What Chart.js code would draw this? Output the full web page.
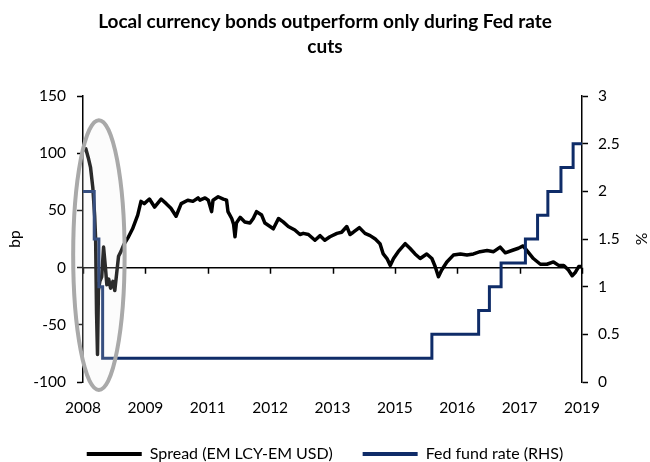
<!DOCTYPE html>
<html>
<head>
<meta charset="utf-8">
<script src="https://cdn.jsdelivr.net/npm/chart.js@4.4.1/dist/chart.umd.min.js"></script>
<style>
  html, body { margin: 0; padding: 0; background: #fff; }
  #wrap { width: 650px; height: 462px; }
</style>
</head>
<body>
<div id="wrap"><canvas id="chart"></canvas></div>
<script>
// dates as decimal years
const spreadDates = [2008.40, 2008.46, 2008.52, 2008.56, 2008.61, 2008.65, 2008.67, 2008.69, 2008.71, 2008.73,
  2008.76, 2008.80, 2008.84, 2008.88, 2008.91, 2008.95, 2008.99, 2009.04, 2009.08, 2009.12,
  2009.16, 2009.21, 2009.27, 2009.36, 2009.46, 2009.57, 2009.64, 2009.71, 2009.82, 2009.93,
  2010.07, 2010.18, 2010.28, 2010.39, 2010.50, 2010.64, 2010.75, 2010.86, 2010.90, 2011.01,
  2011.08, 2011.15, 2011.18, 2011.29, 2011.40, 2011.47, 2011.50, 2011.58, 2011.62, 2011.65,
  2011.68, 2011.76, 2011.86, 2011.97, 2012.04, 2012.11, 2012.22, 2012.29, 2012.40, 2012.47,
  2012.58, 2012.68, 2012.79, 2012.93, 2013.04, 2013.11, 2013.22, 2013.36, 2013.47, 2013.57,
  2013.68, 2013.83, 2013.93, 2014.04, 2014.11, 2014.18, 2014.31, 2014.43, 2014.54, 2014.65,
  2014.75, 2014.82, 2014.90, 2014.97, 2015.04, 2015.14, 2015.29, 2015.39, 2015.50, 2015.61,
  2015.75, 2015.86, 2015.93, 2016.00, 2016.07, 2016.18, 2016.32, 2016.47, 2016.61, 2016.75,
  2016.89, 2017.04, 2017.18, 2017.32, 2017.43, 2017.57, 2017.71, 2017.81, 2017.91, 2018.03,
  2018.18, 2018.32, 2018.46, 2018.57, 2018.68, 2018.78, 2018.86, 2018.93, 2019.00, 2019.07];

const spreadValues = [103, 104, 95, 88, 70, 45, 25, -40, -76, -20,
  -12, -8, 18, 0, -15, -10, -18, -12, -20, -5,
  10, 14, 20, 26, 34, 46, 58, 56, 60, 53,
  60, 56, 52, 45, 56, 59, 58, 61, 59, 61,
  59, 49, 59, 62, 60, 59, 49, 43, 38, 27,
  39, 44, 40, 39, 43, 49, 46, 39, 36, 34,
  43, 40, 36, 33, 29, 30, 29, 24, 28, 24,
  27, 30, 31, 36, 29, 31, 35, 30, 28, 25,
  21, 12, 8, 2, 8, 14, 21, 17, 12, 8,
  12, 8, 1, -8, -2, 5, 11, 12, 11, 12,
  14, 15, 14, 18, 13, 15, 17, 19, 14, 8,
  3, 3, 5, 2, 2, -2, -7, -4, 1, 1];

// Fed fund rate steps (value holds from each date onward)
const fedDates = [2008.40, 2008.64, 2008.74, 2008.82, 2015.86, 2016.86, 2017.09, 2017.34,
  2017.86, 2018.12, 2018.34, 2018.62, 2018.88, 2019.07];
const fedRates = [2.0, 1.5, 1.0, 0.25, 0.5, 0.75, 1.0, 1.25, 1.5, 1.75, 2.0, 2.25, 2.5, 2.5];

const tickLabels = ['2008', '2009', '2011', '2012', '2013', '2015', '2016', '2017', '2019'];

// grey ellipse highlighting the 2008 cuts (data units)
const highlight = { x: 2008.74, y: 11, rx: 0.55, ry: 118 };

const navy = '#0f2c68';
const FONT = 'Lato, "Noto Sans", sans-serif';

const xMin = spreadDates[0];
const xMax = spreadDates[spreadDates.length - 1];

const zeroAxis = {
  id: 'zeroAxis',
  beforeDatasetsDraw(chart) {
    const { ctx, chartArea, scales } = chart;
    const y0 = scales.y.getPixelForValue(0);
    ctx.save();
    ctx.strokeStyle = '#000';
    ctx.lineWidth = 1.5;
    ctx.beginPath();
    ctx.moveTo(chartArea.left, y0);
    ctx.lineTo(chartArea.right, y0);
    scales.x.ticks.forEach((t, i) => {
      const px = Math.round(scales.x.getPixelForTick(i)) + 0.5;
      ctx.moveTo(px, y0);
      ctx.lineTo(px, y0 + 6);
    });
    ctx.stroke();
    ctx.restore();
  },
  afterDatasetsDraw(chart) {
    const { ctx, scales } = chart;
    const cx = scales.x.getPixelForValue(highlight.x);
    const cy = scales.y.getPixelForValue(highlight.y);
    const rx = Math.abs(scales.x.getPixelForValue(highlight.x + highlight.rx) - cx);
    const ry = Math.abs(scales.y.getPixelForValue(highlight.y + highlight.ry) - cy);
    ctx.save();
    ctx.beginPath();
    ctx.ellipse(cx, cy, rx, ry, 0, 0, Math.PI * 2);
    ctx.fillStyle = 'rgba(240,240,240,0.18)';
    ctx.fill();
    ctx.strokeStyle = '#a9a9a9';
    ctx.lineWidth = 4;
    ctx.stroke();
    ctx.restore();
  }
};

new Chart(document.getElementById('chart'), {
  type: 'line',
  data: {
    datasets: [{
      label: 'Spread (EM LCY-EM USD)',
      data: spreadDates.map((d, i) => ({ x: d, y: spreadValues[i] })),
      borderColor: '#000',
      backgroundColor: '#000',
      borderWidth: 3.5,
      borderJoinStyle: 'round',
      pointRadius: 0,
      tension: 0,
      yAxisID: 'y',
      order: 2
    }, {
      label: 'Fed fund rate (RHS)',
      data: fedDates.map((d, i) => ({ x: d, y: fedRates[i] })),
      borderColor: navy,
      backgroundColor: navy,
      borderWidth: 3,
      pointRadius: 0,
      stepped: 'before',
      yAxisID: 'y1',
      order: 1
    }]
  },
  options: {
    responsive: true,
    maintainAspectRatio: false,
    animation: false,
    layout: { padding: { left: 0, right: 0, top: 0, bottom: -10 } },
    plugins: {
      tooltip: { enabled: false },
      title: {
        display: true,
        text: ['Local currency bonds outperform only during Fed rate', 'cuts'],
        color: '#000',
        font: { family: FONT, size: 19, weight: 'bold', lineHeight: 1.32 },
        padding: { top: 9, bottom: 37 }
      },
      legend: {
        position: 'bottom',
        labels: {
          color: '#000',
          font: { family: FONT, size: 16 },
          boxWidth: 55,
          boxHeight: 4,
          padding: 30,
          sort: (a, b) => a.datasetIndex - b.datasetIndex,
          generateLabels: (chart) => Chart.defaults.plugins.legend.labels.generateLabels(chart)
            .map(l => ({ ...l, lineWidth: 0 }))
        }
      }
    },
    scales: {
      x: {
        type: 'linear',
        min: xMin,
        max: xMax,
        afterBuildTicks: (scale) => {
          scale.ticks = tickLabels.map((l, i) => ({ value: xMin + i * (xMax - xMin) / (tickLabels.length - 1) }));
        },
        afterFit: (scale) => { scale.height = 34; },
        grid: { display: false, drawTicks: false },
        border: { display: false },
        ticks: {
          color: '#000',
          font: { family: FONT, size: 15.5 },
          padding: 17,
          maxRotation: 0,
          autoSkip: false,
          callback: (v, i) => tickLabels[i]
        }
      },
      y: {
        position: 'left',
        min: -100,
        max: 150,
        afterFit: (scale) => { scale.width = 83; },
        ticks: { stepSize: 50, color: '#000', font: { family: FONT, size: 15.5 }, padding: 11 },
        grid: { drawOnChartArea: false, tickLength: 6, color: '#000', tickWidth: 1.5 },
        border: { color: '#000', width: 1.5 },
        title: { display: true, text: 'bp', color: '#000', font: { family: FONT, size: 15.5 }, padding: { top: 6, bottom: 0 } }
      },
      y1: {
        position: 'right',
        min: 0,
        max: 3,
        afterFit: (scale) => { scale.width = 68; },
        ticks: { stepSize: 0.5, color: '#000', font: { family: FONT, size: 15.5 }, padding: 10, callback: (v) => String(v) },
        grid: { drawOnChartArea: false, tickLength: 6, color: '#000', tickWidth: 1.5 },
        border: { color: '#000', width: 1.5 },
        title: { display: true, text: '%', color: '#000', font: { family: FONT, size: 15.5 }, padding: { top: 0, bottom: 0 } }
      }
    }
  },
  plugins: [zeroAxis]
});
</script>
</body>
</html>
